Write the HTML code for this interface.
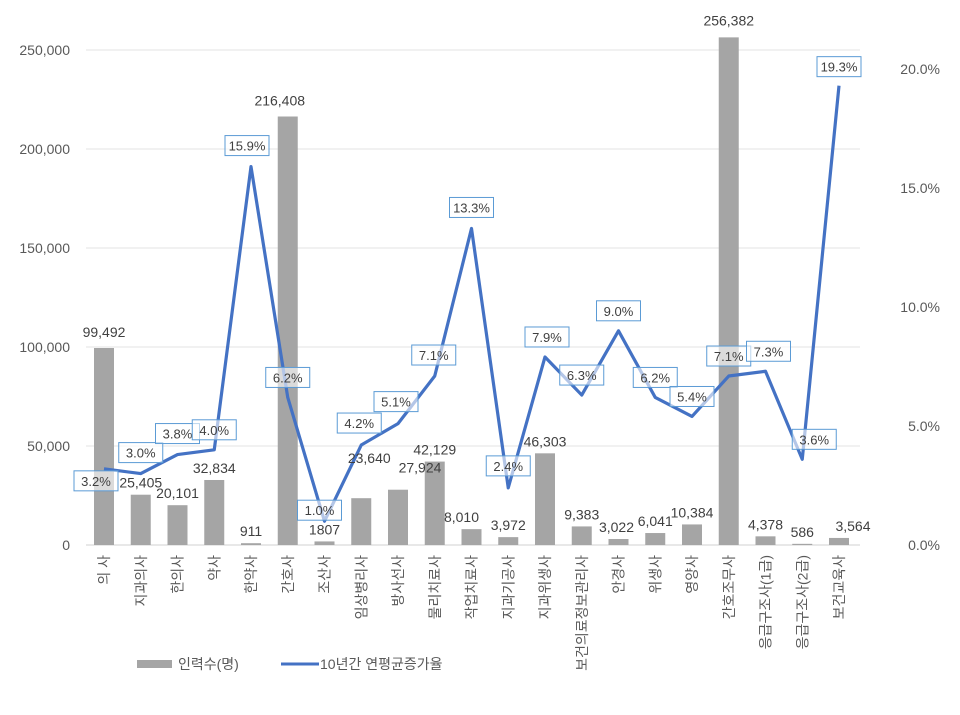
<!DOCTYPE html>
<html><head><meta charset="utf-8"><style>
body{margin:0;background:#fff;}
svg{font-family:"Liberation Sans","Noto Sans CJK KR",sans-serif;}
</style></head><body>
<svg id="chart" width="960" height="710" xmlns="http://www.w3.org/2000/svg"></svg>
<script>
const categories=["의 사","지과의사","한의사","약사","한약사","간호사","조산사","임상병리사","방사선사","물리치료사","작업치료사","지과기공사","지과위생사","보건의료정보관리사","안경사","위생사","영양사","간호조무사","응급구조사(1급)","응급구조사(2급)","보건교육사"];
const workforce=[99492,25405,20101,32834,911,216408,1807,23640,27924,42129,8010,3972,46303,9383,3022,6041,10384,256382,4378,586,3564];
const growthRate=[3.2,3.0,3.8,4.0,15.9,6.2,1.0,4.2,5.1,7.1,13.3,2.4,7.9,6.3,9.0,6.2,5.4,7.1,7.3,3.6,19.3];
const leftTicks=[0,50000,100000,150000,200000,250000];
const rightTicks=[0,5,10,15,20];
const workforceLabels=["99,492","25,405","20,101","32,834","911","216,408","1807","23,640","27,924","42,129","8,010","3,972","46,303","9,383","3,022","6,041","10,384","256,382","4,378","586","3,564"];
const boxOff=[[-8,12],[0,-21],[0,-21],[0,-20],[-4,-21],[0,-20],[-5,-11],[-2,-22],[-2,-22],[-1,-21],[0,-21],[0,-22],[2,-20],[0,-20],[0,-20],[0,-20],[0,-20],[0,-20],[3,-20],[12,-20],[0,-19]];
const lblOff=[[0,-16],[0,-12],[0,-12],[0,-12],[0,-12],[-8,-16],[0,-12],[8,-40],[22,-22],[0,-12],[-10,-12],[0,-12],[0,-12],[0,-12],[-2,-12],[0,-12],[0,-12],[0,-17],[0,-12],[0,-12],[14,-12]];

const svg=document.getElementById('chart');
const NS="http://www.w3.org/2000/svg";
function mk(t,a,p){const e=document.createElementNS(NS,t);for(const k in a)e.setAttribute(k,a[k]);(p||svg).appendChild(e);return e;}
const y0=545;
function yL(v){return y0-v/250000*495;}
function yR(v){return y0-v/20*476;}
function xC(i){return 104+i*36.75;}

leftTicks.forEach(t=>{
  const g=mk('line',{x1:86,x2:860,y1:yL(t),y2:yL(t),stroke:t===0?'#d0d0d0':'#e3e3e3','stroke-width':1});
  
  
  const tx=mk('text',{x:70,y:yL(t)+5,'text-anchor':'end','font-size':14,fill:'#595959'});
  tx.textContent=t.toLocaleString('en-US');
  
  
});
rightTicks.forEach(t=>{
  const tx=mk('text',{x:940,y:yR(t)+5,'text-anchor':'end','font-size':14,fill:'#595959'});
  tx.textContent=t.toFixed(1)+'%';
  
  
});
categories.forEach((c,i)=>{
  const x=xC(i);
  const b=mk('rect',{x:x-10,y:yL(workforce[i]),width:20,height:y0-yL(workforce[i]),fill:'#a5a5a5'});
  
  
  const t=mk('text',{transform:`translate(${x+5},555) rotate(-90)`,'text-anchor':'end','font-size':14,fill:'#595959'});
  t.textContent=c;
  
  
});
const pts=growthRate.map((v,i)=>xC(i)+','+yR(v)).join(' ');
const pl=mk('polyline',{points:pts,fill:'none',stroke:'#4472c4','stroke-width':3.2,'stroke-linejoin':'round'});


workforce.forEach((v,i)=>{
  const t=mk('text',{x:xC(i)+lblOff[i][0],y:yL(v)+lblOff[i][1]+5,'text-anchor':'middle','font-size':14,fill:'#404040'});
  t.textContent=workforceLabels[i];
  
  
});
growthRate.forEach((v,i)=>{
  const cx=xC(i)+boxOff[i][0], cy=yR(v)+boxOff[i][1];
  const r=mk('rect',{x:cx-22,y:cy-10,width:44,height:20,fill:'#fff','fill-opacity':0.6,stroke:'#5b9bd5','stroke-width':1});
  
  
  const t=mk('text',{x:cx,y:cy+5,'text-anchor':'middle','font-size':13,fill:'#404040'});
  t.textContent=v.toFixed(1)+'%';
  
  
});
const lg=mk('g',{});


const l1=mk('rect',{x:137,y:660,width:35,height:8,fill:'#a5a5a5'},lg);


const t1=mk('text',{x:178,y:669,'font-size':14,fill:'#595959'},lg);
t1.textContent='인력수(명)';


const l2=mk('line',{x1:281,x2:319,y1:664,y2:664,stroke:'#4472c4','stroke-width':3},lg);


const t2=mk('text',{x:320,y:669,'font-size':14,fill:'#595959'},lg);
t2.textContent='10년간 연평균증가율';


</script>
</body></html>
